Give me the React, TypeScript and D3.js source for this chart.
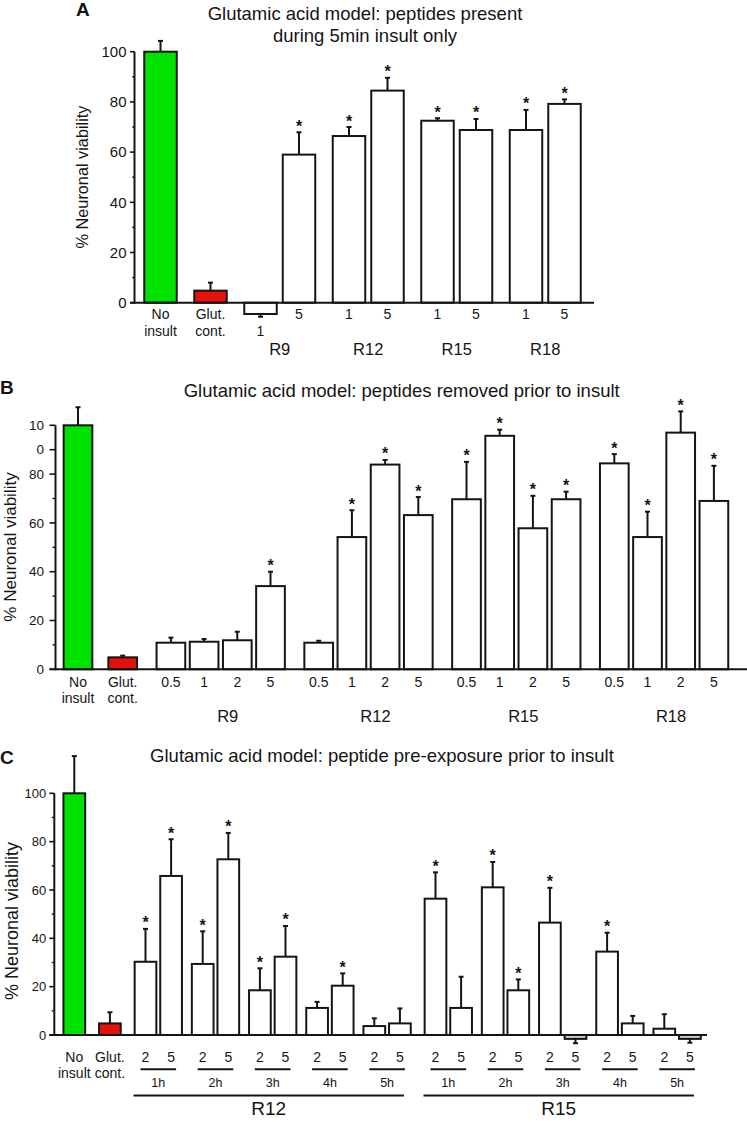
import * as d3 from 'd3';

const FONT = '"Liberation Sans", Arial, Helvetica, sans-serif';
const INK = '#141414';
const GREEN = '#00e200';
const RED = '#e5120c';
const NEG_FILL = '#d0d0d0';

// ---- A: peptides present during 5min insult only
const A_LABELS = ['No|insult', 'Glut.|cont.', '1', '5', '1', '5', '1', '5', '1', '5'];
const A_GROUP = [0, 1, 2, 2, 3, 3, 4, 4, 5, 5];
const A_VALUES = [100, 4.8, -4.5, 59, 66.4, 84.5, 72.5, 68.8, 68.8, 79.2];
const A_ERRORS = [4.3, 3.2, 1.1, 8.9, 3.6, 5.1, 1.0, 4.4, 8.0, 1.8];
const A_STARS = [0, 0, 0, 1, 1, 1, 1, 1, 1, 1];
const A_PEPTIDES = ['R9', 'R12', 'R15', 'R18'];
const A_TICKS = [0, 20, 40, 60, 80, 100];
const A_TICK_LABELS = ['0', '20', '40', '60', '80', '100'];

// ---- B: peptides removed prior to insult
const B_LABELS = ['No|insult', 'Glut.|cont.',
  '0.5', '1', '2', '5', '0.5', '1', '2', '5', '0.5', '1', '2', '5', '0.5', '1', '2', '5'];
const B_GROUP = [0, 1, 2, 2, 2, 2, 3, 3, 3, 3, 4, 4, 4, 4, 5, 5, 5, 5];
const B_VALUES = [100, 4.9, 10.9, 11.3, 11.9, 34.1, 10.9, 54.2, 83.9, 63.2,
  69.7, 95.7, 57.8, 69.7, 84.4, 54.2, 97.0, 69.0];
const B_ERRORS = [7.4, 0.7, 2.1, 1.1, 3.5, 5.9, 0.8, 11.0, 1.9, 7.4,
  15.3, 2.5, 13.3, 3.1, 3.8, 10.4, 8.7, 14.4];
const B_STARS = [0, 0, 0, 0, 0, 1, 0, 1, 1, 1, 1, 1, 1, 1, 1, 1, 1, 1];
const B_PEPTIDES = ['R9', 'R12', 'R15', 'R18'];
const B_TICKS = [0, 20, 40, 60, 80, 90, 100];
const B_TICK_LABELS = ['0', '20', '40', '60', '80', '0', '10'];

// ---- C: peptide pre-exposure prior to insult
const C_LABELS = ['No|insult', 'Glut.|cont.',
  '2', '5', '2', '5', '2', '5', '2', '5', '2', '5',
  '2', '5', '2', '5', '2', '5', '2', '5', '2', '5'];
const C_PAIR = [0, 1, 2, 2, 3, 3, 4, 4, 5, 5, 6, 6, 7, 7, 8, 8, 9, 9, 10, 10, 11, 11];
const C_PEPTIDE_IDX = [0, 1, 2, 2, 2, 2, 2, 2, 2, 2, 2, 2, 3, 3, 3, 3, 3, 3, 3, 3, 3, 3];
const C_VALUES = [100, 4.8, 30.3, 65.8, 29.4, 72.7, 18.5, 32.4, 11.2, 20.4, 3.7, 4.8,
  56.4, 11.2, 61.1, 18.5, 46.5, -1.6, 34.5, 4.8, 2.6, -1.6];
const C_ERRORS = [15.4, 4.6, 13.6, 15.2, 13.5, 10.9, 9.1, 12.7, 2.5, 5.1, 3.2, 6.2,
  10.9, 12.9, 10.5, 4.5, 14.4, 1.8, 7.8, 3.1, 6.0, 1.6];
const C_STARS = [0, 0, 1, 1, 1, 1, 1, 1, 0, 1, 0, 0, 1, 0, 1, 1, 1, 0, 1, 0, 0, 0];
const C_TIMES = ['1h', '2h', '3h', '4h', '5h'];
const C_PEPTIDES = ['R12', 'R15'];
const C_TICKS = [0, 20, 40, 60, 80, 100];
const C_TICK_LABELS = ['0', '20', '40', '60', '80', '100'];
const MINOR_TICKS = [10, 30, 50, 70, 90];

type Cfg = {
  labels: string[]; values: number[]; errors: number[]; stars: number[];
  minor: number[]; major: number[];
  y0: number; y100: number; axisX: number; axisEnd: number; tickLen: number; tickGap: number;
  c0: number; step: number; minorGap: number; majorGap: number; barW: number;
  ticks: number[]; tickLabels: string[]; minorTicks: number[]; tickFont: number;
  labelY: number; lineH: number; labelFont: number; dropNegLabel?: boolean; negFill?: string;
};

function layout(c: Cfg) {
  const x = d3.scaleLinear().domain([0, 1]).range([c.c0, c.c0 + c.step]);
  const y = d3.scaleLinear().domain([0, 100]).range([c.y0, c.y100]);
  const cx = c.values.map((_, i) => x(i + (c.minor[i] * c.minorGap + c.major[i] * c.majorGap) / c.step));
  return { cx, y };
}

function BarPanel({ c }: { c: Cfg }) {
  const { cx, y } = layout(c);
  const y0 = y(0);
  return (
    <g>
      {/* y axis */}
      <line x1={c.axisX} x2={c.axisX} y1={y0 + 1} y2={y(100)} stroke={INK} strokeWidth={2} />
      {c.ticks.map((t, i) => (
        <g key={'t' + i}>
          <line x1={c.axisX - c.tickLen} x2={c.axisX} y1={y(t)} y2={y(t)} stroke={INK} strokeWidth={1.6} />
          <text x={c.axisX - c.tickLen - c.tickGap} y={y(t)} dy="0.35em" textAnchor="end"
            fontSize={c.tickFont} fill={INK}>{c.tickLabels[i]}</text>
        </g>
      ))}
      {c.minorTicks.map((t) => (
        <line key={'m' + t} x1={c.axisX - c.tickLen / 2} x2={c.axisX} y1={y(t)} y2={y(t)}
          stroke={INK} strokeWidth={1.4} />
      ))}
      {/* bars */}
      {c.values.map((v, i) => {
        const fill = i === 0 ? GREEN : i === 1 ? RED : v < 0 && c.negFill ? c.negFill : '#fff';
        const top = y(v);
        const errEnd = v >= 0 ? y(v + c.errors[i]) : y(v - c.errors[i]);
        return (
          <g key={'b' + i}>
            <line x1={cx[i]} x2={cx[i]} y1={top} y2={errEnd} stroke={INK} strokeWidth={2} />
            <line x1={cx[i] - 2.5} x2={cx[i] + 2.5} y1={errEnd} y2={errEnd} stroke={INK} strokeWidth={2} />
            <rect x={cx[i] - c.barW / 2} y={Math.min(top, y0)} width={c.barW}
              height={Math.abs(top - y0)} fill={fill} stroke={INK} strokeWidth={2} />
            {c.stars[i] ? (
              <text x={cx[i]} y={errEnd - 0.5} textAnchor="middle" fontSize={16} fontWeight="bold"
                fill={INK}>*</text>
            ) : null}
          </g>
        );
      })}
      {/* baseline */}
      <line x1={c.axisX - c.tickLen} x2={c.axisEnd} y1={y0} y2={y0} stroke={INK} strokeWidth={2} />
      {/* category labels */}
      {c.labels.map((l, i) => {
        const shift = c.dropNegLabel && c.values[i] < 0 ? c.lineH : 0;
        return l.split('|').map((part, k) => (
          <text key={'l' + i + '-' + k} x={cx[i]} y={c.labelY + shift + k * c.lineH} dy="0.35em"
            textAnchor="middle" fontSize={c.labelFont} fill={INK}>{part}</text>
        ));
      })}
    </g>
  );
}

const A_CFG: Cfg = {
  labels: A_LABELS, values: A_VALUES, errors: A_ERRORS, stars: A_STARS,
  minor: A_GROUP, major: A_GROUP.map(() => 0),
  y0: 302.7, y100: 51.7, axisX: 134.5, axisEnd: 594, tickLen: 4.5, tickGap: 3.5,
  c0: 160.5, step: 38.5, minorGap: 11.5, majorGap: 0, barW: 32.5,
  ticks: A_TICKS, tickLabels: A_TICK_LABELS, minorTicks: MINOR_TICKS, tickFont: 15,
  labelY: 314, lineH: 17, labelFont: 14, dropNegLabel: true,
};

const B_CFG: Cfg = {
  labels: B_LABELS, values: B_VALUES, errors: B_ERRORS, stars: B_STARS,
  minor: B_GROUP, major: B_GROUP.map((g) => (g > 0 ? 1 : 0)),
  y0: 669.3, y100: 425.3, axisX: 55.5, axisEnd: 747, tickLen: 6, tickGap: 5.5,
  c0: 78, step: 33.2, minorGap: 15, majorGap: -3.5, barW: 28.7,
  ticks: B_TICKS, tickLabels: B_TICK_LABELS, minorTicks: [10, 30, 50, 70], tickFont: 13.5,
  labelY: 681.7, lineH: 16.5, labelFont: 14,
};

const C_CFG: Cfg = {
  labels: C_LABELS, values: C_VALUES, errors: C_ERRORS, stars: C_STARS,
  minor: C_PAIR, major: C_PEPTIDE_IDX,
  y0: 1035, y100: 793.3, axisX: 54.3, axisEnd: 707, tickLen: 5, tickGap: 3,
  c0: 74.3, step: 25.6, minorGap: 6, majorGap: 4, barW: 21.7,
  ticks: C_TICKS, tickLabels: C_TICK_LABELS, minorTicks: MINOR_TICKS, tickFont: 13,
  labelY: 1057.3, lineH: 16, labelFont: 14, negFill: NEG_FILL,
};

function groupCenters(cx: number[], idx: number[], from: number) {
  const groups = Array.from(new Set(idx.filter((g) => g >= from)));
  return groups.map((g) => {
    const xs = cx.filter((_, i) => idx[i] === g);
    return { first: xs[0], last: xs[xs.length - 1], mid: d3.mean(xs) as number };
  });
}

export default function App() {
  const W = 747;
  const H = 1122;
  const a = layout(A_CFG);
  const b = layout(B_CFG);
  const c = layout(C_CFG);
  const aGroups = groupCenters(a.cx, A_GROUP, 2);
  const bGroups = groupCenters(b.cx, B_GROUP, 2);
  const cPairs = groupCenters(c.cx, C_PAIR, 2);
  const cPeps = groupCenters(c.cx, C_PEPTIDE_IDX, 2);

  return (
    <svg width={W} height={H} fontFamily={FONT}
      style={{ position: 'absolute', left: 0, top: 0, background: '#fff' }}>
      <rect width={W} height={H} fill="#fff" />

      {/* Panel A */}
      <text x={76} y={16} fontSize={19} fontWeight="bold" fill={INK}>A</text>
      <text x={365} y={20} textAnchor="middle" fontSize={18.5} fill={INK}>Glutamic acid model: peptides present</text>
      <text x={365} y={41.5} textAnchor="middle" fontSize={18.5} fill={INK}>during 5min insult only</text>
      <text transform="translate(82,177) rotate(-90)" dy="0.35em" textAnchor="middle" fontSize={16.3} fill={INK}>
        % Neuronal viability
      </text>
      <BarPanel c={A_CFG} />
      {aGroups.map((g, i) => (
        <text key={'ag' + i} x={g.mid} y={349} dy="0.35em" textAnchor="middle" fontSize={16.5} fill={INK}>
          {A_PEPTIDES[i]}
        </text>
      ))}

      {/* Panel B */}
      <text x={0} y={394} fontSize={19} fontWeight="bold" fill={INK}>B</text>
      <text x={401.7} y={397.3} textAnchor="middle" fontSize={18.5} fill={INK}>
        Glutamic acid model: peptides removed prior to insult
      </text>
      <text transform="translate(10,547) rotate(-90)" dy="0.35em" textAnchor="middle" fontSize={17} fill={INK}>
        % Neuronal viability
      </text>
      <BarPanel c={B_CFG} />
      {bGroups.map((g, i) => (
        <text key={'bg' + i} x={g.mid + 7} y={716.7} dy="0.35em" textAnchor="middle" fontSize={16.5} fill={INK}>
          {B_PEPTIDES[i]}
        </text>
      ))}

      {/* Panel C */}
      <text x={0} y={764} fontSize={19} fontWeight="bold" fill={INK}>C</text>
      <text x={382} y={761.7} textAnchor="middle" fontSize={18.5} fill={INK}>
        Glutamic acid model: peptide pre-exposure prior to insult
      </text>
      <text transform="translate(12,921) rotate(-90)" dy="0.35em" textAnchor="middle" fontSize={18} fill={INK}>
        % Neuronal viability
      </text>
      <BarPanel c={C_CFG} />
      {cPairs.map((g, i) => (
        <g key={'cp' + i}>
          <line x1={g.first - 5} x2={g.last + 5} y1={1069.3} y2={1069.3} stroke={INK} strokeWidth={2} />
          <text x={g.mid} y={1083} dy="0.35em" textAnchor="middle" fontSize={12.5} fill={INK}>
            {C_TIMES[i % C_TIMES.length]}
          </text>
        </g>
      ))}
      {cPeps.map((g, i) => {
        const x1 = g.first - 12;
        const x2 = g.last + 4;
        return (
          <g key={'cr' + i}>
            <line x1={x1} x2={x2} y1={1095.5} y2={1095.5} stroke={INK} strokeWidth={2} />
            <text x={(x1 + x2) / 2} y={1115} textAnchor="middle" fontSize={19} fill={INK}>{C_PEPTIDES[i]}</text>
          </g>
        );
      })}
    </svg>
  );
}
